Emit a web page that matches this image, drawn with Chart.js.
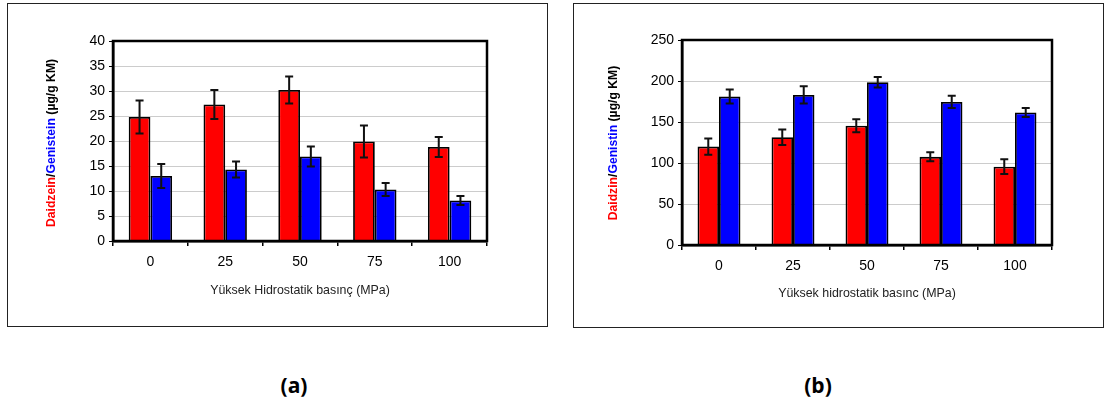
<!DOCTYPE html>
<html>
<head>
<meta charset="utf-8">
<script src="https://cdn.jsdelivr.net/npm/chart.js@4.4.1/dist/chart.umd.min.js"></script>
<style>
  body { margin: 0; background: #fff; width: 1105px; height: 403px; position: relative; overflow: hidden; }
  .frame { position: absolute; border: 1px solid #222; background: #fff; }
  .frame canvas { display: block; }
  .panel-label { position: absolute; font-family: "Open Sans", sans-serif; font-weight: bold; font-size: 21px; color: #000; transform: translate(-50%, -50%); }
</style>
</head>
<body>
<div class="frame" style="left:7px; top:3px;"><canvas id="chartA" width="539" height="322"></canvas></div>
<div class="frame" style="left:573px; top:3px;"><canvas id="chartB" width="529" height="323"></canvas></div>
<div class="panel-label" style="left:294px; top:385px;">(a)</div>
<div class="panel-label" style="left:818px; top:385px;">(b)</div>
<script>
// ---- data ----
const pressures = ['0', '25', '50', '75', '100'];

// (a) aglycones
const daidzein = [24.8, 27.3, 30.2, 19.9, 18.8];
const daidzeinErr = [3.3, 2.9, 2.7, 3.2, 2.0];
const genistein = [13.0, 14.3, 16.9, 10.3, 8.1];
const genisteinErr = [2.4, 1.6, 2.0, 1.3, 0.9];

// (b) glucosides
const daidzin = [120, 131.5, 145.5, 107.5, 95.5];
const daidzinErr = [10, 9.5, 8, 5.5, 9];
const genistin = [181, 183, 198.5, 174.5, 161.5];
const genistinErr = [8.5, 10.5, 6.5, 7.5, 5.5];

const FONT = 'Arial, "Liberation Sans", sans-serif';
const RED = '#ff0000';
const BLUE = '#0000ff';

// error bars drawn on top of the bars
const errorBarPlugin = {
    id: 'errorBars',
    afterDatasetsDraw: function(chart) {
        const ctx = chart.ctx;
        const yScale = chart.scales.y;
        chart.data.datasets.forEach((ds, i) => {
            if (!ds._errors) return;
            const meta = chart.getDatasetMeta(i);
            meta.data.forEach((bar, j) => {
                const v = ds.data[j];
                const e = ds._errors[j];
                const yHi = yScale.getPixelForValue(v + e);
                const yLo = yScale.getPixelForValue(v - e);
                ctx.save();
                ctx.strokeStyle = '#111';
                ctx.lineWidth = 2;
                ctx.beginPath();
                ctx.moveTo(bar.x, yHi);
                ctx.lineTo(bar.x, yLo);
                ctx.moveTo(bar.x - 4, yHi);
                ctx.lineTo(bar.x + 4, yHi);
                ctx.moveTo(bar.x - 4, yLo);
                ctx.lineTo(bar.x + 4, yLo);
                ctx.stroke();
                ctx.restore();
            });
        });
    }
};

// thick box round the plot area
const plotBoxPlugin = {
    id: 'plotBox',
    afterDraw: function(chart) {
        const a = chart.chartArea;
        const ctx = chart.ctx;
        ctx.save();
        ctx.strokeStyle = '#000';
        ctx.lineWidth = 2.5;
        ctx.strokeRect(a.left, a.top, a.right - a.left, a.bottom - a.top);
        ctx.restore();
    }
};

// multi-coloured rotated y title
const yTitlePlugin = {
    id: 'yTitle',
    afterDraw: function(chart, args, opts) {
        const ctx = chart.ctx;
        const parts = opts.parts || [];
        ctx.save();
        ctx.font = 'bold 12.2px ' + FONT;
        let total = 0;
        parts.forEach(p => { total += ctx.measureText(p[0]).width; });
        ctx.translate(opts.x, opts.y);
        ctx.rotate(-Math.PI / 2);
        ctx.textBaseline = 'middle';
        ctx.textAlign = 'left';
        let x = -total / 2;
        parts.forEach(p => {
            ctx.fillStyle = p[1];
            ctx.fillText(p[0], x, 0);
            x += ctx.measureText(p[0]).width;
        });
        ctx.restore();
    }
};

function barDataset(label, data, errors, color) {
    return {
        label: label,
        data: data,
        _errors: errors,
        backgroundColor: color,
        borderColor: '#000',
        borderWidth: 1.8,
        borderSkipped: 'bottom',
        categoryPercentage: 0.58,
        barPercentage: 1.0
    };
}

function makeChart(canvasId, cfg) {
    const ctx = document.getElementById(canvasId).getContext('2d');
    return new Chart(ctx, {
        type: 'bar',
        data: {
            labels: pressures,
            datasets: [
                barDataset(cfg.names[0], cfg.series[0], cfg.errors[0], RED),
                barDataset(cfg.names[1], cfg.series[1], cfg.errors[1], BLUE)
            ]
        },
        options: {
            responsive: false,
            animation: false,
            layout: { padding: cfg.padding },
            plugins: {
                legend: { display: false },
                tooltip: { enabled: false },
                yTitle: { parts: cfg.yTitle, x: cfg.yTitleX, y: cfg.yTitleY }
            },
            scales: {
                x: {
                    grid: {
                        display: true,
                        offset: true,
                        drawOnChartArea: false,
                        drawTicks: true,
                        tickLength: 5,
                        color: '#000',
                        lineWidth: 1.5
                    },
                    border: { display: true, color: '#000', width: 2.5 },
                    ticks: { color: '#000', font: { family: FONT, size: 14 }, padding: 8 },
                    title: {
                        display: true,
                        text: cfg.xTitle,
                        color: '#222',
                        font: { family: FONT, size: 12.4 },
                        padding: 0
                    },
                    afterFit: function(scale) { scale.height = cfg.xHeight; }
                },
                y: {
                    min: 0,
                    max: cfg.yMax,
                    ticks: { stepSize: cfg.yStep, color: '#000', font: { family: FONT, size: 14 }, padding: 4 },
                    grid: { color: '#cccccc', tickColor: '#000', tickLength: 4, lineWidth: 1 },
                    border: { display: true, color: '#000', width: 2.5 },
                    afterFit: function(scale) { scale.width = cfg.yWidth; }
                }
            }
        },
        plugins: [errorBarPlugin, plotBoxPlugin, yTitlePlugin]
    });
}

makeChart('chartA', {
    names: ['Daidzein', 'Genistein'],
    series: [daidzein, genistein],
    errors: [daidzeinErr, genisteinErr],
    yMax: 40,
    yStep: 5,
    xTitle: 'Yüksek Hidrostatik basınç (MPa)',
    yTitle: [['Daidzein', RED], ['/', '#000'], ['Genistein', BLUE], [' (µg/g KM)', '#000']],
    yTitleX: 44,
    yTitleY: 139,
    padding: { left: 0, right: 60, top: 37, bottom: 28 },
    yWidth: 105,
    xHeight: 57
});

makeChart('chartB', {
    names: ['Daidzin', 'Genistin'],
    series: [daidzin, genistin],
    errors: [daidzinErr, genistinErr],
    yMax: 250,
    yStep: 50,
    xTitle: 'Yüksek hidrostatik basınc (MPa)',
    yTitle: [['Daidzin', RED], ['/', '#000'], ['Genistin', BLUE], [' (µg/g KM)', '#000']],
    yTitleX: 40,
    yTitleY: 139,
    padding: { left: 0, right: 51, top: 36, bottom: 26 },
    yWidth: 108,
    xHeight: 56
});
</script>
</body>
</html>
